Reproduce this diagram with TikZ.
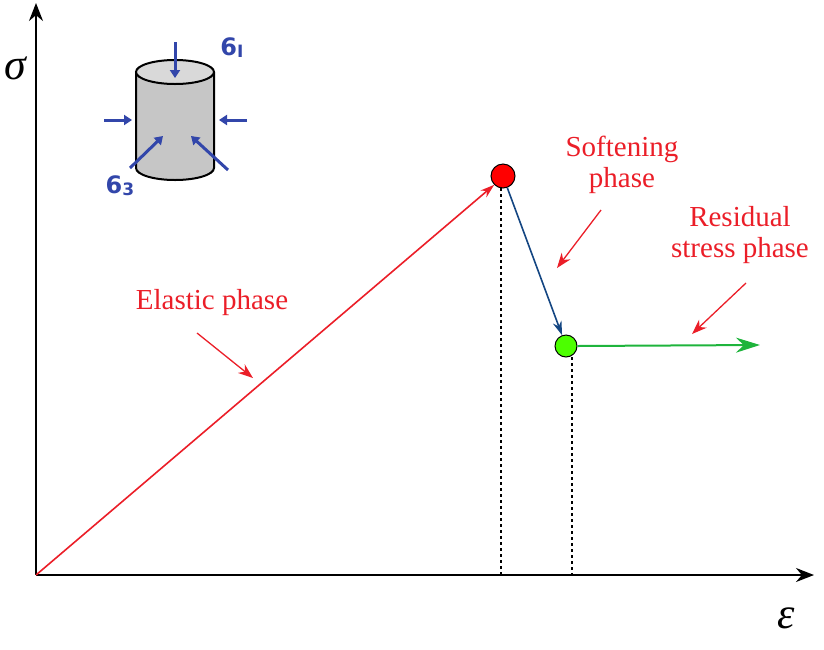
\documentclass[tikz,border=0pt]{standalone}
\usepackage{fontspec}
\setmainfont{Liberation Serif}
\newfontfamily\sansf{DejaVu Sans}
\usetikzlibrary{arrows.meta}
\definecolor{lred}{RGB}{235,30,40}
\definecolor{lblue}{RGB}{20,70,130}
\definecolor{lgreen}{RGB}{30,180,60}
\definecolor{iblue}{RGB}{50,70,170}
\begin{document}
\begin{tikzpicture}[x=1pt,y=-1pt,
 ax/.style={line width=2pt,-{Stealth[length=18pt,width=14pt]}},
 lab/.style={text=lred,font=\fontsize{29}{31}\selectfont,align=center},
 gk/.style={font=\itshape\fontsize{44}{44}\selectfont},
 pt/.style={-{Stealth[length=15pt,width=11pt]},line width=1.3pt},
 ia/.style={iblue,line width=3pt,-{Triangle[length=8pt,width=10pt]}}]
\useasboundingbox (0,0) rectangle (824,649);
\coordinate (o) at (36,575);
\coordinate (ytop) at (36,3);
\coordinate (xend) at (814,575);
\draw[ax] (o) -- (ytop);
\draw[ax] (o) -- (xend);
\node[gk] (sig) at (15,68) {σ};
\node[gk] (eps) at (786,618) {ε};
\node[circle,draw=black,line width=1pt,fill=red,minimum size=24pt,inner sep=0] (p) at (503,176) {};
\node[circle,draw=black,line width=1pt,fill=green!70!yellow,minimum size=22pt,inner sep=0] (q) at (566,346) {};
\coordinate (pb) at (501,575); \coordinate (qb) at (572,575);
\draw[dashed,line width=1.4pt] (501,188) -- (pb);
\draw[dashed,line width=1.4pt] (572,357) -- (qb);
\draw[lred,line width=1.6pt,-{Stealth[length=14pt,width=9pt]}] (o) -- (p.225);
\draw[lblue,line width=1.6pt,-{Stealth[length=14pt,width=9pt]}] (p.290) -- (q.110);
\coordinate (gend) at (760,345);
\draw[lgreen,line width=2pt,-{Stealth[length=24pt,width=15pt]}] (q.east) -- (gend);
\node[lab] (el) at (212,303) {Elastic phase};
\node[lab] (so) at (622,165) {Softening\\phase};
\node[lab] (re) at (740,235) {Residual\\stress phase};
\coordinate (a1) at (253,378); \coordinate (a2) at (557,268); \coordinate (a3) at (692,334);
\draw[pt,lred] (197,333) -- (a1);
\draw[pt,lred] (601,210) -- (a2);
\draw[pt,lred] (746,283) -- (a3);
% cylinder icon
\fill[gray!45] (136,72) -- (136,168) arc[start angle=180,end angle=0,x radius=39,y radius=12] -- (214,72) -- cycle;
\draw[line width=2pt] (136,72) -- (136,168) arc[start angle=180,end angle=0,x radius=39,y radius=12] -- (214,72);
\draw[line width=2pt,fill=gray!30] (175,72) ellipse[x radius=39,y radius=12];
\draw[ia] (175,42) -- (175,78);
\draw[ia] (104,120) -- (132,120);
\draw[ia] (247,120) -- (219,120);
\draw[ia] (130,168) -- (163,136);
\draw[ia] (228,170) -- (191,136);
\node[text=iblue,font=\sansf\bfseries\fontsize{24}{24}\selectfont] (s1) at (232,48) {6\raisebox{-2pt}{\fontsize{17}{17}\selectfont I}};
\node[text=iblue,font=\sansf\bfseries\fontsize{24}{24}\selectfont] (s3) at (120,186) {6\raisebox{-2pt}{\fontsize{17}{17}\selectfont 3}};
\end{tikzpicture}
\end{document}
